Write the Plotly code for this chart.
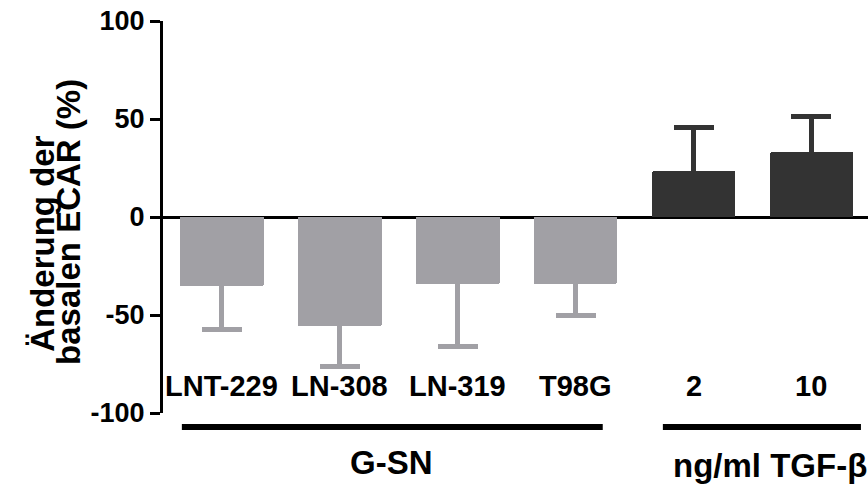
import plotly.graph_objects as go

# ---- data ----
categories = ["LNT-229", "LN-308", "LN-319", "T98G", "2", "10"]
gsn_idx = [0, 1, 2, 3]
tgf_idx = [4, 5]
means = [-35.2, -55.6, -34.2, -34.2, 23.5, 33.2]
errors = [22.3, 20.5, 32.0, 15.9, 22.4, 17.9]
yticks = [-100, -50, 0, 50, 100]
group_labels = ["G-SN", "ng/ml TGF-\u03b2"]
y_title_lines = ["\u00c4nderung der", "basalen ECAR (%)"]

# ---- style ----
FONT = "Liberation Sans, Arial, sans-serif"
GREY = "#a1a0a5"
DARK = "#333333"
CAP_INSET = 1.5  # hides the inner cap inside the bar

x_pos = list(range(len(categories)))

fig = go.Figure()

def add_group(idx, color, down):
    xs = [x_pos[i] for i in idx]
    ys = [means[i] for i in idx]
    es = [errors[i] for i in idx]
    inset = [CAP_INSET] * len(idx)
    fig.add_trace(go.Bar(
        x=xs, y=ys, width=0.71,
        marker=dict(color=color, line=dict(width=0), cornerradius=2),
        error_y=dict(
            type="data", symmetric=False,
            array=inset if down else es,
            arrayminus=es if down else inset,
            color=color, thickness=5, width=20,
        ),
        showlegend=False, hoverinfo="skip",
    ))

add_group(gsn_idx, GREY, True)
add_group(tgf_idx, DARK, False)

annotations = []
for i, c in enumerate(categories):
    annotations.append(dict(
        x=x_pos[i], y=-86, xref="x", yref="y", text=c, showarrow=False,
        font=dict(family=FONT, size=29, color="black", weight="bold"),
        xanchor="center", yanchor="middle",
    ))

# group labels and lines
g_start = x_pos[gsn_idx[0]] - 0.34
g_end = x_pos[gsn_idx[-1]] + 0.23
t_start = x_pos[tgf_idx[0]] - 0.26
t_end = x_pos[tgf_idx[-1]] + 0.42
shapes = [
    dict(type="line", xref="x", yref="paper", x0=g_start, x1=g_end,
         y0=-0.0357, y1=-0.0357, line=dict(color="black", width=6)),
    dict(type="line", xref="x", yref="paper", x0=t_start, x1=t_end,
         y0=-0.0357, y1=-0.0357, line=dict(color="black", width=6)),
]
annotations.append(dict(
    x=1.44, y=-0.125, xref="x", yref="paper", text=group_labels[0],
    showarrow=False, font=dict(family=FONT, size=33, color="black", weight="bold"),
    xanchor="center", yanchor="middle"))
annotations.append(dict(
    x=4.65, y=-0.133, xref="x", yref="paper", text=group_labels[1],
    showarrow=False, font=dict(family=FONT, size=33, color="black", weight="bold"),
    xanchor="center", yanchor="middle"))

# y-axis title (two rotated lines)
annotations.append(dict(
    x=-0.172, y=0.431, xref="paper", yref="paper", text=y_title_lines[0],
    showarrow=False, textangle=-90,
    font=dict(family=FONT, size=33, color="black", weight="bold"),
    xanchor="center", yanchor="middle"))
annotations.append(dict(
    x=-0.135, y=0.487, xref="paper", yref="paper", text=y_title_lines[1],
    showarrow=False, textangle=-90,
    font=dict(family=FONT, size=33, color="black", weight="bold"),
    xanchor="center", yanchor="middle"))

fig.update_layout(
    width=868, height=484,
    margin=dict(l=163, r=0, t=21, b=71),
    plot_bgcolor="white", paper_bgcolor="white",
    bargap=0,
    xaxis=dict(range=[-0.5, 5.48], showticklabels=False, showgrid=False,
               zeroline=False, showline=False, ticks=""),
    yaxis=dict(range=[-100, 100], tickvals=yticks,
               ticktext=[str(t) for t in yticks],
               showgrid=False, zeroline=True, zerolinecolor="black",
               zerolinewidth=3, showline=True, linecolor="black", linewidth=3,
               ticks="outside", ticklen=10, tickwidth=3, tickcolor="black",
               ticklabelstandoff=0,
               tickfont=dict(family=FONT, size=27, color="black", weight="bold")),
    annotations=annotations,
    shapes=shapes,
)

fig.write_html("out.html")
